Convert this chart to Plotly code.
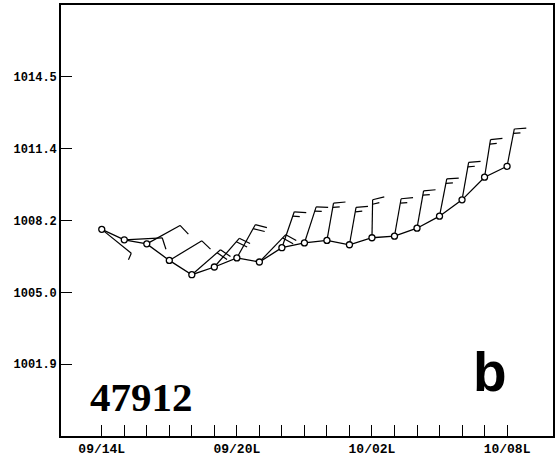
import math
import plotly.graph_objects as go

# ---- data ----
obs_index = list(range(19))
pressure = [1007.81, 1007.35, 1007.17, 1006.44, 1005.81, 1006.15, 1006.55, 1006.37,
            1007.00, 1007.21, 1007.32, 1007.13, 1007.44, 1007.51, 1007.86, 1008.39,
            1009.11, 1010.11, 1010.59]
wind_dir = [129, 87, 61, 59, 49, 41, 29, 44, 19, 18, 10, 10, 1, 10, 10, 11, 10, 9, 11]
wind_speed = [5, 10, 10, 10, 20, 20, 20, 20, 15, 15, 15, 15, 15, 15, 15, 15, 15, 15, 15]
x_tick_pos = [0, 6, 12, 18]
x_tick_labels = ["09/14L", "09/20L", "10/02L", "10/08L"]
y_tick_vals = [1001.87, 1005.03, 1008.2, 1011.37, 1014.53]
y_tick_labels = ["1001.9", "1005.0", "1008.2", "1011.4", "1014.5"]
station = "47912"
panel = "b"

# ---- layout geometry ----
W, H = 558, 458
ML, MR, MT, MB = 61, 5, 5, 22
XR = [-1.81, 20.04]
YR = [998.7, 1017.7]
pw, ph = W - ML - MR, H - MT - MB
px_x = pw / (XR[1] - XR[0])
px_y = ph / (YR[1] - YR[0])

STAFF = 38.0
FULL = 12.0
HALF = 7.0
GAP = 4.5
BARB_ANG = 75.0

bx, by = [], []
for x, p, d, s in zip(obs_index, pressure, wind_dir, wind_speed):
    t = math.radians(d)
    ux, uy = math.sin(t), math.cos(t)
    ex = x + STAFF * ux / px_x
    ey = p + STAFF * uy / px_y
    bx += [x, ex, None]
    by += [p, ey, None]
    f = math.radians(d + BARB_ANG)
    fx, fy = math.sin(f), math.cos(f)
    lens = [FULL] * (s // 10) + ([HALF] if s % 10 >= 5 else [])
    for k, ln in enumerate(lens):
        off = STAFF - k * GAP
        sx = x + off * ux / px_x
        sy = p + off * uy / px_y
        bx += [sx, sx + ln * fx / px_x, None]
        by += [sy, sy + ln * fy / px_y, None]

fig = go.Figure()
fig.add_trace(go.Scatter(x=bx, y=by, mode="lines",
                         line=dict(color="black", width=1.2), hoverinfo="skip"))
fig.add_trace(go.Scatter(x=obs_index, y=pressure, mode="lines+markers",
                         line=dict(color="black", width=1.3),
                         marker=dict(symbol="circle", size=6, color="white",
                                     line=dict(color="black", width=1.3))))

ticktext = [x_tick_labels[x_tick_pos.index(i)] if i in x_tick_pos else "" for i in obs_index]

fig.update_layout(
    width=W, height=H, margin=dict(l=ML, r=MR, t=MT, b=MB, autoexpand=False),
    paper_bgcolor="white", plot_bgcolor="white", showlegend=False,
    xaxis=dict(range=XR, tickvals=obs_index, ticktext=ticktext, ticks="inside",
               ticklen=11, tickwidth=1.3, tickcolor="black", showgrid=False,
               zeroline=False, showline=True, mirror=True, linecolor="black",
               linewidth=1.6, automargin=False,
               tickfont=dict(family="Liberation Mono", size=13, color="black",
                             weight="bold")),
    yaxis=dict(range=YR, tickvals=y_tick_vals, ticktext=y_tick_labels, ticks="inside",
               ticklen=11, tickwidth=1.3, tickcolor="black", showgrid=False,
               zeroline=False, showline=True, mirror=True, linecolor="black",
               linewidth=1.6, automargin=False,
               tickfont=dict(family="Liberation Mono", size=12, color="black",
                             weight="bold")),
    annotations=[
        dict(text="<b>%s</b>" % station, xref="paper", yref="paper",
             x=(141.5 - ML) / pw, y=1 - (397 - MT) / ph, xanchor="center",
             yanchor="middle", showarrow=False,
             font=dict(family="Liberation Serif", size=41, color="black")),
        dict(text="<b>%s</b>" % panel, xref="paper", yref="paper",
             x=(490 - ML) / pw, y=1 - (372 - MT) / ph, xanchor="center",
             yanchor="middle", showarrow=False,
             font=dict(family="Liberation Sans", size=55, color="black")),
    ],
)
fig.write_html("out.html", config={"displayModeBar": False},
               post_script="document.body.style.margin='0';document.body.style.overflow='hidden';")
